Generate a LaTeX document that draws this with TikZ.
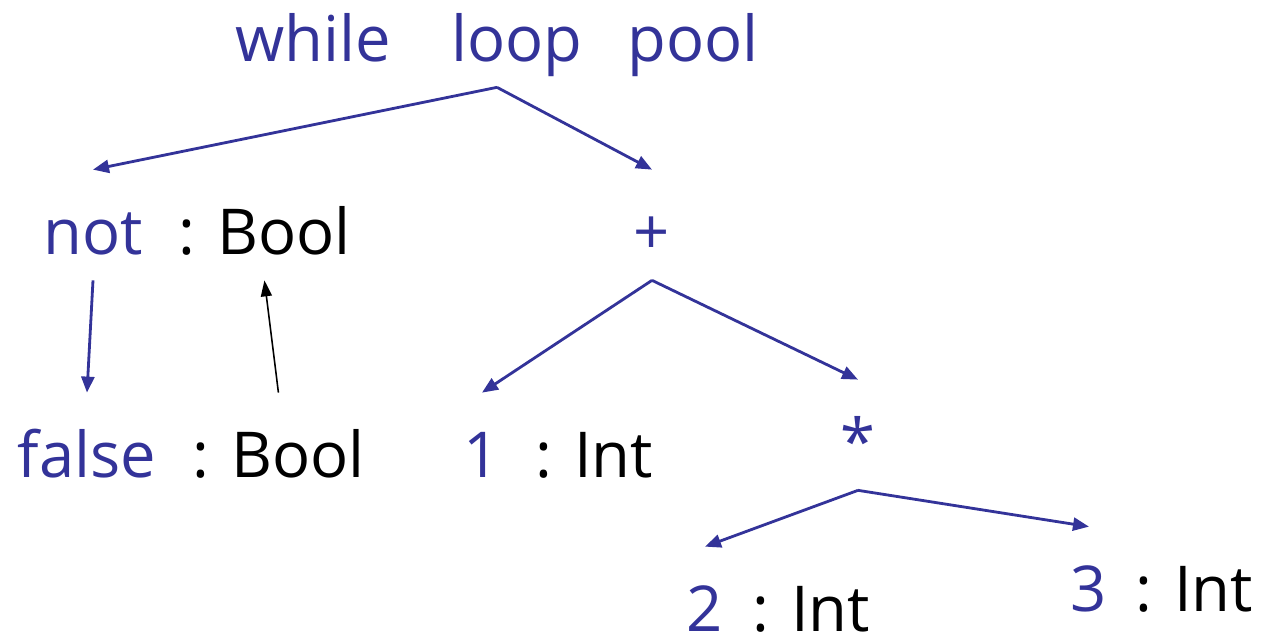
\documentclass[tikz,border=0pt]{standalone}
\usepackage{fontspec}
\setmainfont{Open Sans}
\usepackage{tikz}
\usetikzlibrary{arrows.meta,positioning}

\definecolor{astblue}{RGB}{51,51,153}

\tikzset{
  word/.style={inner sep=0pt, text height=1.7cm, text depth=0.5cm, font=\fontsize{36}{42}\selectfont},
  term/.style={word, text=astblue, anchor=base},
  ty/.style={word, text=black, anchor=base west},
  edge/.style={draw=astblue, line width=1.6pt, -{Triangle[length=0.32cm,width=0.26cm]}},
  tyedge/.style={draw=black, line width=0.9pt, -{Triangle[length=0.32cm,width=0.22cm]}}
}

\begin{document}
\begin{tikzpicture}
            \useasboundingbox (0,0) rectangle (25.66,12.8);

            % the loop and its two subtrees
            \node[term] (loop) at (9.94,11.56) {while\hspace{1.2cm}loop\hspace{0.9cm}pool};
            \node[term] (not) at (1.86,7.7) {not};
            \node[ty] (notty) at (3.56,7.7) {: Bool};
            \node[term] (plus) at (13.04,7.7) {+};

            \node[term] (false) at (1.74,3.24) {false};
            \node[ty] (falsety) at (3.84,3.24) {: Bool};
            \node[term] (one) at (9.64,3.24) {1};
            \node[ty] (onety) at (10.7,3.24) {: Int};
            \node[term] (star) at (17.16,3.5) {*};

            \node[term] (two) at (14.1,0.16) {2};
            \node[ty] (twoty) at (15.04,0.16) {: Int};
            \node[term] (three) at (21.78,0.56) {3};
            \node[ty] (threety) at (22.7,0.56) {: Int};

            % tree edges
            \draw[edge] (loop.south) -- (not.north);
            \draw[edge] (loop.south) -- (plus.north);
            \draw[edge] (not.south) -- (false.north);
            \draw[edge] (plus.south) -- (one.north);
            \draw[edge] (plus.south) -- (star.north);
            \draw[edge] (star.south) -- (two.north);
            \draw[edge] (star.south) -- (three.north);

            % type flows up
            \draw[tyedge] (falsety.north) -- (notty.south);
        \end{tikzpicture}
\end{document}
